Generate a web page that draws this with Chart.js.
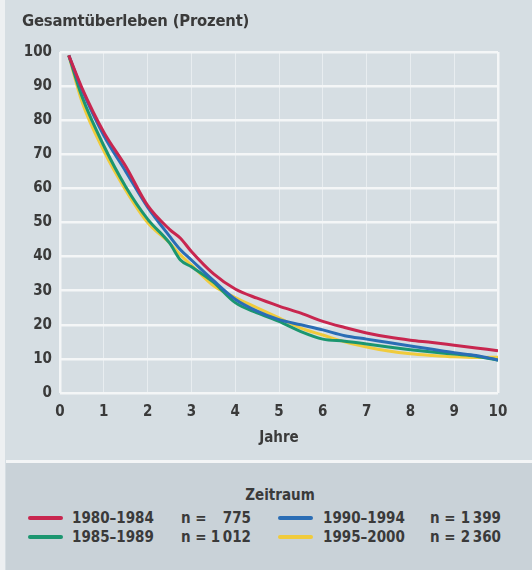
<!DOCTYPE html>
<html lang="de">
<head>
<meta charset="utf-8">
<script src="https://cdn.jsdelivr.net/npm/chart.js@4/dist/chart.umd.min.js"></script>
<style>
    html, body {
        margin: 0;
        padding: 0;
    }
    body {
        width: 532px;
        height: 570px;
        position: relative;
        overflow: hidden;
        background: #d6dee3;
        font-family: "Liberation Sans Narrow", "DejaVu Sans Condensed", sans-serif;
        font-weight: bold;
        color: #3a3a3a;
    }
    .strip {
        position: absolute;
        left: 0;
        top: 0;
        width: 5px;
        height: 570px;
        background: #edf0f2;
    }
    .chart {
        position: absolute;
        left: 6px;
        top: 0;
        width: 526px;
        height: 460px;
    }
    .title {
        position: absolute;
        left: 22px;
        top: 11px;
        font-size: 16.5px;
        line-height: 20px;
        letter-spacing: -0.2px;
    }
    .separator {
        position: absolute;
        left: 6px;
        top: 460px;
        width: 526px;
        height: 3px;
        background: #f3f5f6;
    }
    .legend {
        position: absolute;
        left: 6px;
        top: 463px;
        width: 526px;
        height: 107px;
        background: #c9d2d8;
    }
    .legend-title {
        position: absolute;
        left: 0;
        width: 548px;
        top: 23px;
        text-align: center;
        font-size: 15px;
        line-height: 18px;
    }
    .item {
        position: absolute;
        font-size: 15px;
        line-height: 18px;
        white-space: nowrap;
    }
    .swatch {
        position: absolute;
        height: 4px;
        border-radius: 2px;
    }
</style>
</head>
<body>
<div class="strip"></div>
<div class="chart"><canvas id="survival" width="526" height="460"></canvas></div>
<div class="title">Gesamtüberleben (Prozent)</div>
<div class="separator"></div>
<div class="legend" id="legend">
    <div class="legend-title">Zeitraum</div>
</div>
<script>
// Data
const jahre = [0.2, 0.5, 1, 1.5, 2, 2.5, 2.75, 3, 3.5, 4, 4.5, 5, 5.5, 6, 6.5, 7, 7.5, 8, 8.5, 9, 9.5, 10];

const zeitraum = ["1980–1984", "1985–1989", "1990–1994", "1995–2000"];
const fallzahl = ["775", "1\u2009012", "1\u2009399", "2\u2009360"];
const farben = ["#c8264f", "#1b9670", "#2a6db5", "#f0cb3c"];

const ueberleben1980 = [99, 89.5, 76.5, 66.5, 55, 48, 45.4, 41.5, 35, 30.5, 27.8, 25.5, 23.4, 21, 19.2, 17.6, 16.4, 15.5, 14.8, 14, 13.2, 12.4];
const ueberleben1985 = [99, 87, 72.5, 60.5, 51, 44, 39, 37, 32.5, 26.5, 23.5, 21, 18, 15.8, 15.2, 14.4, 13.5, 12.7, 12, 11.4, 10.8, 9.6];
const ueberleben1990 = [99, 89, 75.5, 65, 54.5, 46, 42, 39, 33, 27.5, 24, 21.5, 20, 18.5, 16.8, 15.8, 14.8, 13.8, 12.8, 11.8, 11, 9.7];
const ueberleben1995 = [99, 85.5, 71, 59.5, 50, 44, 40.5, 37.5, 31.5, 28, 25, 22, 19, 17, 15, 13.5, 12.3, 11.5, 11, 10.6, 10.4, 10.5];

const xTicks = [0, 1, 2, 3, 4, 5, 6, 7, 8, 9, 10];
const yTicks = [0, 10, 20, 30, 40, 50, 60, 70, 80, 90, 100];

// Helpers
const toPoints = (values) => values.map((v, i) => ({x: jahre[i], y: v}));

const fontFamily = '"Liberation Sans Narrow", "DejaVu Sans Condensed", sans-serif';

const makeDataset = (i, values, order) => {
    return {
        label: zeitraum[i],
        data: toPoints(values),
        borderColor: farben[i],
        backgroundColor: farben[i],
        borderWidth: 3,
        pointRadius: 0,
        cubicInterpolationMode: "monotone",
        order: order
    };
};

// Legend
const legendElement = document.querySelector("#legend");
const legendPos = [
    {sx: 22, tx: 66, nx: 175, nr: 245, y: 46},
    {sx: 22, tx: 66, nx: 175, nr: 245, y: 65},
    {sx: 272, tx: 317, nx: 424, nr: 495, y: 46},
    {sx: 272, tx: 317, nx: 424, nr: 495, y: 65}
];
zeitraum.forEach((z, i) => {
    let p = legendPos[i];
    let sw = document.createElement("div");
    sw.className = "swatch";
    sw.style.left = p.sx + "px";
    sw.style.width = "35px";
    sw.style.top = (p.y + 7) + "px";
    sw.style.background = farben[i];
    legendElement.appendChild(sw);

    let label = document.createElement("div");
    label.className = "item";
    label.style.left = p.tx + "px";
    label.style.top = p.y + "px";
    label.textContent = z;
    legendElement.appendChild(label);

    let n = document.createElement("div");
    n.className = "item";
    n.style.left = p.nx + "px";
    n.style.top = p.y + "px";
    n.textContent = "n =";
    legendElement.appendChild(n);

    let count = document.createElement("div");
    count.className = "item";
    count.style.right = (526 - p.nr) + "px";
    count.style.top = p.y + "px";
    count.textContent = fallzahl[i];
    legendElement.appendChild(count);
});

// Chart
new Chart(document.querySelector("#survival"), {
    type: "line",
    data: {
        datasets: [
            makeDataset(0, ueberleben1980, 1),
            makeDataset(2, ueberleben1990, 2),
            makeDataset(1, ueberleben1985, 3),
            makeDataset(3, ueberleben1995, 4)
        ]
    },
    options: {
        responsive: false,
        animation: false,
        layout: {
            padding: {top: 52, right: 34, left: 0, bottom: 0}
        },
        plugins: {
            legend: {display: false},
            tooltip: {enabled: false}
        },
        scales: {
            x: {
                type: "linear",
                min: 0,
                max: 10,
                afterBuildTicks: (axis) => {
                    axis.ticks = xTicks.map(v => ({value: v}));
                },
                afterFit: (axis) => {
                    axis.height = 67;
                },
                ticks: {
                    color: "#3a3a3a",
                    padding: 10,
                    maxRotation: 0,
                    font: {family: fontFamily, size: 15, weight: "bold"}
                },
                grid: {
                    drawTicks: false,
                    color: (ctx) => (ctx.tick && (ctx.tick.value === 0 || ctx.tick.value === 10)) ? "#f4f6f7" : "rgba(255,255,255,0.45)",
                    lineWidth: (ctx) => (ctx.tick && (ctx.tick.value === 0 || ctx.tick.value === 10)) ? 2.5 : 1
                },
                border: {display: false},
                title: {
                    display: true,
                    text: "Jahre",
                    color: "#3a3a3a",
                    padding: {top: 0, bottom: 13},
                    font: {family: fontFamily, size: 15, weight: "bold"}
                }
            },
            y: {
                min: 0,
                max: 100,
                afterBuildTicks: (axis) => {
                    axis.ticks = yTicks.map(v => ({value: v}));
                },
                afterFit: (axis) => {
                    axis.width = 54;
                },
                ticks: {
                    color: "#3a3a3a",
                    padding: 8,
                    font: {family: fontFamily, size: 15, weight: "bold"}
                },
                grid: {
                    drawTicks: false,
                    color: "#f4f6f7",
                    lineWidth: 2.5
                },
                border: {display: false}
            }
        }
    }
});
</script>
</body>
</html>
